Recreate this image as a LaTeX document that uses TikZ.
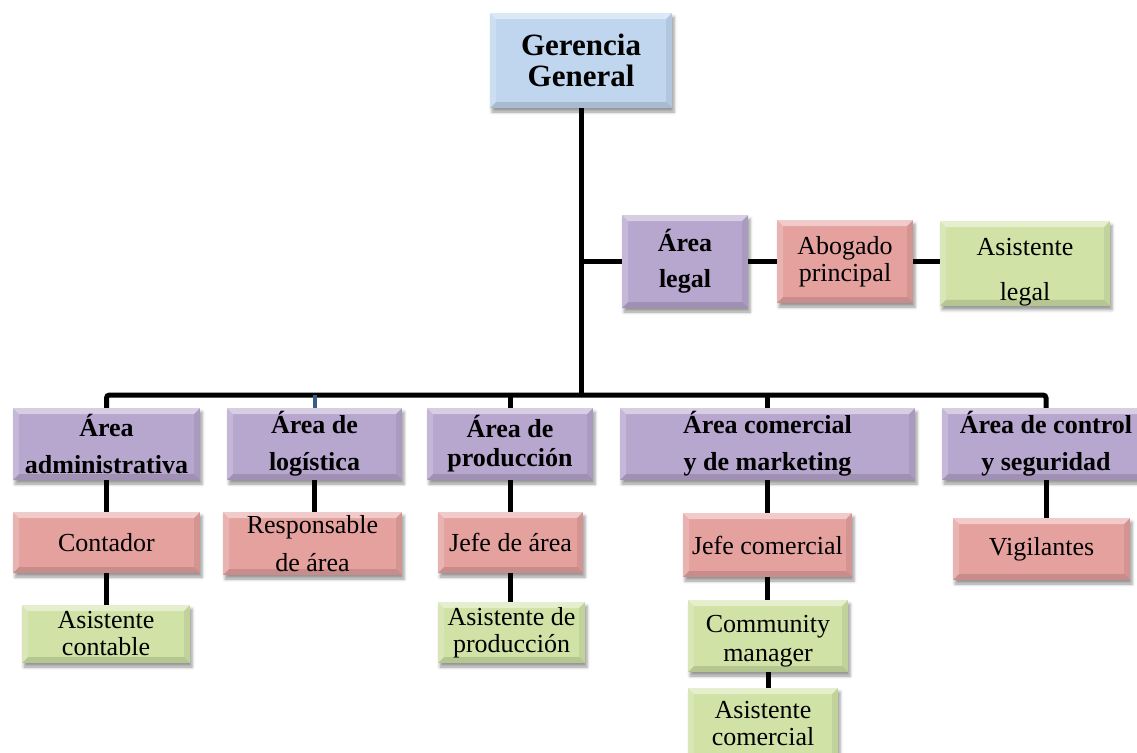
\documentclass[tikz,border=0pt]{standalone}
\usepackage{fontspec}
\setmainfont{Liberation Serif}
\usetikzlibrary{shadows.blur}
\definecolor{cblue}{HTML}{C0D6EE}
\definecolor{cpurple}{HTML}{B7A6CE}
\definecolor{cred}{HTML}{E4A19E}
\definecolor{cgreen}{HTML}{D0E2A6}
\definecolor{cline}{HTML}{3B5A86}
\newcommand\mybevel{%
  \fill[white,opacity=.45] (path picture bounding box.north west) -- (path picture bounding box.north east)
    -- ([shift={(-6pt,-6pt)}]path picture bounding box.north east) -- ([shift={(6pt,-6pt)}]path picture bounding box.north west) -- cycle;
  \fill[white,opacity=.2] (path picture bounding box.north west) -- ([shift={(6pt,-6pt)}]path picture bounding box.north west)
    -- ([shift={(6pt,6pt)}]path picture bounding box.south west) -- (path picture bounding box.south west) -- cycle;
  \fill[black,opacity=.12] (path picture bounding box.south west) -- (path picture bounding box.south east)
    -- ([shift={(-6pt,6pt)}]path picture bounding box.south east) -- ([shift={(6pt,6pt)}]path picture bounding box.south west) -- cycle;
  \fill[black,opacity=.07] (path picture bounding box.north east) -- (path picture bounding box.south east)
    -- ([shift={(-6pt,6pt)}]path picture bounding box.south east) -- ([shift={(-6pt,-6pt)}]path picture bounding box.north east) -- cycle;
}
\tikzset{
  box/.style={rectangle, inner sep=0pt, align=center,
    blur shadow={shadow xshift=2pt, shadow yshift=-4pt, shadow blur radius=3pt, shadow opacity=40},
    path picture={\mybevel}},
  wh/.style 2 args={minimum width=#1pt, minimum height=#2pt},
  lvtwo/.style={box, fill=cpurple, font=\bfseries\fontsize{26}{37}\selectfont},
  lvthree/.style={box, fill=cred, font=\fontsize{26}{28}\selectfont},
  lvfour/.style={box, fill=cgreen, font=\fontsize{26}{27}\selectfont},
  conn/.style={line width=5pt, draw=black},
}
\begin{document}
\begin{tikzpicture}[x=1pt,y=-1pt]
\useasboundingbox (0,0) rectangle (1137,752);
\clip (0,0) rectangle (1137,752);
% top
\node[box, fill=cblue, wh={182}{95}, font=\bfseries\fontsize{31}{31}\selectfont] (gg) at (581,60.5) {Gerencia\\General};
% legal row
\node[lvtwo, wh={126}{93}, font=\bfseries\fontsize{26}{36}\selectfont] (legal) at (685,261.5) {Área\\legal};
\node[lvthree, wh={136}{83}, font=\fontsize{26}{27}\selectfont] (abog) at (845,261.5) {Abogado\\principal};
\node[lvfour, wh={170}{83}, font=\fontsize{26}{45}\selectfont] (asleg) at (1025,263.5) {\rule{0pt}{34pt}Asistente\\legal};
% level 2
\node[lvtwo, wh={187}{72}] (adm) at (106.5,444) {Área\\administrativa};
\node[lvtwo, wh={175}{72}] (log) at (314.5,444) {Área de\\logística};
\node[lvtwo, wh={166}{72}, font=\bfseries\fontsize{26}{29}\selectfont] (prod) at (510,444) {Área de\\producción};
\node[lvtwo, wh={295}{72}] (com) at (767.5,444) {Área comercial\\y de marketing};
\node[lvtwo, wh={208}{72}] (ctrl) at (1046,444) {Área de control\\y seguridad};
% level 3
\node[lvthree, wh={187}{61}] (cont) at (106.5,542.5) {Contador};
\node[lvthree, wh={179}{63}, font=\fontsize{26}{38}\selectfont] (resp) at (312.5,543.5) {Responsable\\de área};
\node[lvthree, wh={145}{61}] (jefe) at (510.5,542.5) {Jefe de área};
\node[lvthree, wh={169}{64}] (jcom) at (767.5,545) {Jefe comercial};
\node[lvthree, wh={177}{62}] (vig) at (1041.5,549) {Vigilantes};
% level 4
\node[lvfour, wh={168}{58}] (ascont) at (106,634) {Asistente\\contable};
\node[lvfour, wh={147}{61}] (asprod) at (511.5,632.5) {Asistente de\\producción};
\node[lvfour, wh={160}{72}, font=\fontsize{26}{29}\selectfont] (cm) at (768,636) {\rule{0pt}{28pt}Community\\manager};
\node[lvfour, wh={150}{72}] (ascom) at (763,724) {Asistente\\comercial};
% connectors
\coordinate (bus) at (581,395);
\draw[conn] (gg.south) -- (bus);
\draw[conn] (legal.west) -- (legal.west -| gg.south);
\draw[conn] (legal.east) -- (abog.west);
\draw[conn] (abog.east) -- (abog.east -| asleg.west);
\draw[conn, rounded corners=3pt] (adm.north) -- (adm.north |- bus) -| (ctrl.north);
\draw[conn, draw=cline, line width=4pt] (log.north) -- (log.north |- bus);
\draw[conn] (prod.north) -- (prod.north |- bus);
\draw[conn] (com.north) -- (com.north |- bus);
\draw[conn] (adm.south) -- (adm.south |- cont.north);
\draw[conn] (log.south) -- (log.south |- resp.north);
\draw[conn] (prod.south) -- (prod.south |- jefe.north);
\draw[conn] (com.south) -- (com.south |- jcom.north);
\draw[conn] (ctrl.south) -- (ctrl.south |- vig.north);
\draw[conn] (cont.south) -- (cont.south |- ascont.north);
\draw[conn] (jefe.south) -- (jefe.south |- asprod.north);
\draw[conn] (jcom.south) -- (jcom.south |- cm.north);
\draw[conn] (cm.south) -- (cm.south |- ascom.north);
\end{tikzpicture}
\end{document}
